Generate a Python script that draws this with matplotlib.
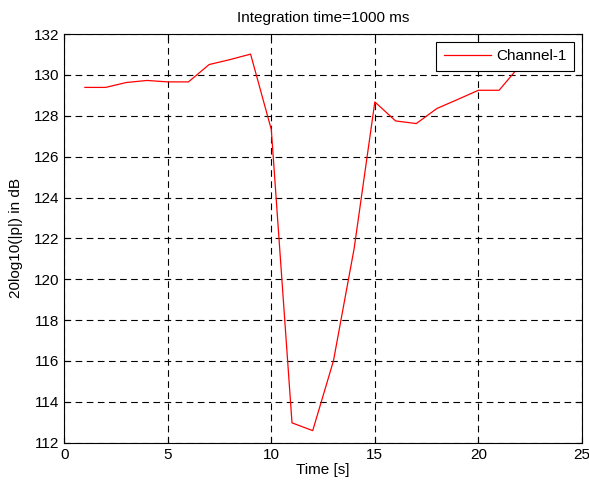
import matplotlib.pyplot as plt

# datos
tiempo = [1, 2, 3, 4, 5, 6, 7, 8, 9, 10, 11, 12, 13, 14, 15, 16, 17, 18, 19, 20, 21, 22]
nivel = [129.39, 129.39, 129.63, 129.73, 129.66, 129.66, 130.51, 130.75, 131.02, 127.33,
         112.97, 112.59, 116.0, 121.5, 128.68, 127.75, 127.62, 128.36, 128.8, 129.25,
         129.25, 130.45]

plt.rcParams['font.family'] = ['Liberation Sans', 'DejaVu Sans']
plt.rcParams['font.size'] = 11

fig = plt.figure(figsize=(5.89, 4.87), dpi=100)
ax = fig.add_axes([0.109, 0.091, 0.879, 0.839])

ax.plot(tiempo, nivel, color='red', linewidth=0.9, label='Channel-1')

ax.set_xlim(0, 25)
ax.set_ylim(112, 132)
ax.set_xticks(range(0, 26, 5))
ax.set_yticks(range(112, 133, 2))
ax.grid(True, color='black', linestyle=(0, (6, 4)), linewidth=0.8)
ax.tick_params(direction='in', top=True, right=True, length=4, width=0.8)
for s in ax.spines.values():
    s.set_linewidth(0.8)

ax.set_title('Integration time=1000 ms', fontsize=11, pad=9)
ax.set_xlabel('Time [s]', labelpad=1)
ax.set_ylabel('20log10(|p|) in dB', labelpad=8)

leg = ax.legend(loc='upper right', fancybox=False, framealpha=1, edgecolor='black',
                borderaxespad=0.5, handlelength=3.1, handletextpad=0.35, borderpad=0.5)
leg.get_frame().set_linewidth(0.8)

plt.savefig('out.png', dpi=100)
